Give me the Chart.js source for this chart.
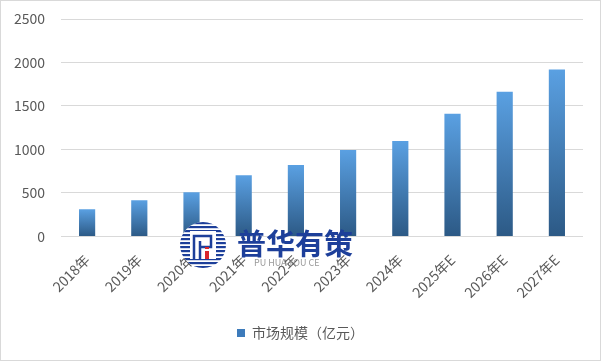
<!DOCTYPE html>
<html><head><meta charset="utf-8">
<script src="https://cdn.jsdelivr.net/npm/chart.js@4.4.1/dist/chart.umd.min.js"></script>
<style>
html,body{margin:0;padding:0;background:#fff;}
#wrap{width:601px;height:361px;box-sizing:border-box;border:1px solid #d9d9d9;background:#fff;}
canvas{display:block;}
</style></head>
<body><div id="wrap"><canvas id="c" width="599" height="359"></canvas></div>
<script>
const categories = ['2018年','2019年','2020年','2021年','2022年','2023年','2024年','2025年E','2026年E','2027年E'];
const marketSize = [312, 416, 508, 704, 820, 995, 1097, 1410, 1663, 1918];
const seriesName = '市场规模（亿元）';
const yTicks = [0, 500, 1000, 1500, 2000, 2500];

const FONT = '"Noto Sans CJK SC", "Microsoft YaHei", sans-serif';
const TXT = '#595959';

const watermark = {
  id: 'watermark',
  afterDraw(chart) {
    const c = chart.ctx;
    c.save();
    const cx = 202, cy = 244, r = 23;
    c.beginPath(); c.arc(cx, cy, r, 0, Math.PI*2); c.fillStyle = '#fff'; c.fill();
    c.save();
    c.beginPath(); c.arc(cx, cy, r, 0, Math.PI*2); c.clip();
    c.fillStyle = '#1d3f9a';
    for (let y = cy - r; y < cy + r; y += 4) { c.fillRect(cx - r, y, r*2, 2.2); }
    c.restore();
    c.fillStyle = '#fff';
    c.fillRect(cx - 13, cy - 14, 26, 28);
    c.strokeStyle = '#1d3f9a'; c.lineWidth = 2.5;
    c.beginPath();
    c.moveTo(cx - 9, cy + 14); c.lineTo(cx - 9, cy - 9); c.lineTo(cx + 8, cy - 9); c.lineTo(cx + 8, cy + 2); c.lineTo(cx - 2, cy + 2);
    c.moveTo(cx - 3, cy - 4); c.lineTo(cx - 3, cy + 14);
    c.stroke();
    c.fillStyle = '#d9262b';
    c.fillRect(cx + 2, cy + 6, 4, 8);
    c.fillRect(cx + 2, cy + 2, 4, 2);
    c.font = 'bold 29px ' + FONT;
    c.fillStyle = '#1d3f9a';
    c.textBaseline = 'middle'; c.textAlign = 'left';
    c.fillText('普华有策', 236, 243);
    c.font = '9px ' + FONT;
    c.fillStyle = '#9a9a9a';
    c.fillText('PU HUA YOU CE', 253, 262);
    c.restore();
  }
};

new Chart(document.getElementById('c'), {
  type: 'bar',
  data: {
    labels: categories,
    datasets: [{
      label: seriesName,
      data: marketSize,
      barPercentage: 0.31,
      categoryPercentage: 1.0,
      backgroundColor: (ctx) => {
        const ch = ctx.chart;
        const ys = ch.scales && ch.scales.y;
        if (!ys || ctx.dataIndex === undefined) return '#4a8ad0';
        const top = ys.getPixelForValue(ctx.raw);
        const base = ys.getPixelForValue(0);
        const g = ch.ctx.createLinearGradient(0, top, 0, base);
        g.addColorStop(0, '#5aa0e2');
        g.addColorStop(1, '#2c5985');
        return g;
      }
    }]
  },
  options: {
    responsive: false,
    animation: false,
    layout: { padding: { top: 18, right: 0, left: 0, bottom: 10 } },
    plugins: {
      tooltip: { enabled: false },
      legend: {
        position: 'bottom',
        labels: {
          boxWidth: 8, boxHeight: 8, color: TXT, padding: 10,
          font: { family: FONT, size: 14 },
          generateLabels: (chart) => [{ text: seriesName, fillStyle: '#3d7bbb', strokeStyle: '#3d7bbb', lineWidth: 0, datasetIndex: 0, fontColor: TXT }]
        }
      }
    },
    scales: {
      x: {
        grid: { display: false, drawTicks: false },
        border: { display: false },
        afterFit: (s) => { s.paddingRight = 17; },
        ticks: { color: TXT, font: { family: FONT, size: 14 }, minRotation: 45, maxRotation: 45, padding: 15 }
      },
      y: {
        min: 0, max: 2500,
        afterBuildTicks: (s) => { s.ticks = yTicks.map(v => ({ value: v })); },
        afterFit: (s) => { s.width = 60; s.paddingTop = 0; s.paddingBottom = 0; },
        grid: { color: '#d9d9d9', drawTicks: false, lineWidth: 1 },
        border: { display: false },
        ticks: { color: TXT, font: { family: FONT, size: 14 }, padding: 16, callback: (v) => String(v) }
      }
    }
  },
  plugins: [watermark]
});
</script></body></html>
